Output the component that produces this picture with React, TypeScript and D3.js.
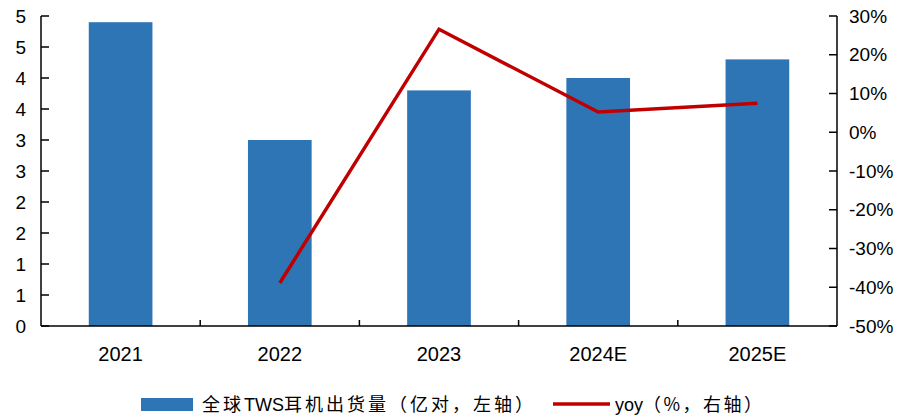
import React from "react";
import * as d3 from "d3";

const categories = ["2021", "2022", "2023", "2024E", "2025E"];
const shipments = [4.9, 3.0, 3.8, 4.0, 4.3];
const yoy = [null, -0.389, 0.266, 0.052, 0.075];
const leftTicks = [0, 0.5, 1, 1.5, 2, 2.5, 3, 3.5, 4, 4.5, 5];
const rightTicks = [-0.5, -0.4, -0.3, -0.2, -0.1, 0, 0.1, 0.2, 0.3];

const W = 909;
const H = 418;
const left = 41;
const right = 837;
const top = 16;
const bottom = 326;
const BLUE = "#2E75B6";
const RED = "#C00000";
const FONT = "'Liberation Sans', Arial, sans-serif";
const CJK = "'Noto Sans CJK SC', sans-serif";

export default function App() {
  const x = d3.scaleBand<string>().domain(categories).range([left, right]).paddingInner(0).paddingOuter(0);
  const yL = d3.scaleLinear().domain([0, 5]).range([bottom, top]);
  const yR = d3.scaleLinear().domain([-0.5, 0.3]).range([bottom, top]);
  const bw = x.bandwidth() * 0.4;
  const pct = (t: number) => d3.format(".0%")(t).replace("\u2212", "-");

  const linePts = categories
    .map((c, i) => ({ c, v: yoy[i] }))
    .filter((d) => d.v !== null) as { c: string; v: number }[];
  const line = d3
    .line<{ c: string; v: number }>()
    .x((d) => (x(d.c) as number) + x.bandwidth() / 2)
    .y((d) => yR(d.v));

  const cjk = { fontFamily: CJK, letterSpacing: 3 } as React.CSSProperties;
  const lat = { fontFamily: FONT, letterSpacing: 0 } as React.CSSProperties;

  return (
    <svg width={W} height={H} style={{ position: "absolute", left: 0, top: 0, background: "#fff" }}>
      <rect x={0} y={0} width={W} height={H} fill="#fff" />
      {categories.map((c, i) => (
        <rect
          key={c}
          x={(x(c) as number) + (x.bandwidth() - bw) / 2}
          y={yL(shipments[i])}
          width={bw}
          height={yL(0) - yL(shipments[i])}
          fill={BLUE}
        />
      ))}
      <g stroke="#000" strokeWidth={1.5} fill="none">
        <line x1={left} x2={left} y1={top} y2={bottom} />
        <line x1={right} x2={right} y1={top} y2={bottom} />
        <line x1={left} x2={right} y1={bottom} y2={bottom} />
        {leftTicks.map((t) => (
          <line key={"l" + t} x1={left} x2={left + 8} y1={yL(t)} y2={yL(t)} />
        ))}
        {rightTicks.map((t) => (
          <line key={"r" + t} x1={right - 8} x2={right} y1={yR(t)} y2={yR(t)} />
        ))}
        {categories.slice(1).map((c) => (
          <line key={"x" + c} x1={x(c) as number} x2={x(c) as number} y1={bottom - 6} y2={bottom} />
        ))}
      </g>
      <path d={line(linePts) || ""} fill="none" stroke={RED} strokeWidth={3.5} strokeLinejoin="miter" />
      <g fontFamily={FONT} fill="#000">
        {leftTicks.map((t) => (
          <text key={"lt" + t} x={26} y={yL(t)} dy="0.35em" textAnchor="end" fontSize={19}>
            {Math.round(t)}
          </text>
        ))}
        {rightTicks.map((t) => (
          <text key={"rt" + t} x={849} y={yR(t)} dy="0.35em" textAnchor="start" fontSize={19}>
            {pct(t)}
          </text>
        ))}
        {categories.map((c) => (
          <text key={"ct" + c} x={(x(c) as number) + x.bandwidth() / 2} y={361} textAnchor="middle" fontSize={20}>
            {c}
          </text>
        ))}
      </g>
      <rect x={141} y={398} width={52} height={13} fill={BLUE} />
      <text x={202} y={411} fontSize={18} fill="#000">
        <tspan style={cjk}>全球</tspan>
        <tspan style={lat}>TWS</tspan>
        <tspan style={cjk}>耳机出货量（亿对，左轴）</tspan>
      </text>
      <line x1={553} x2={610} y1={404} y2={404} stroke={RED} strokeWidth={3.5} />
      <text x={615} y={411} fontSize={18} fill="#000">
        <tspan style={lat}>yoy</tspan>
        <tspan style={{ ...cjk, letterSpacing: 2.5 }}>（%，右轴）</tspan>
      </text>
    </svg>
  );
}
